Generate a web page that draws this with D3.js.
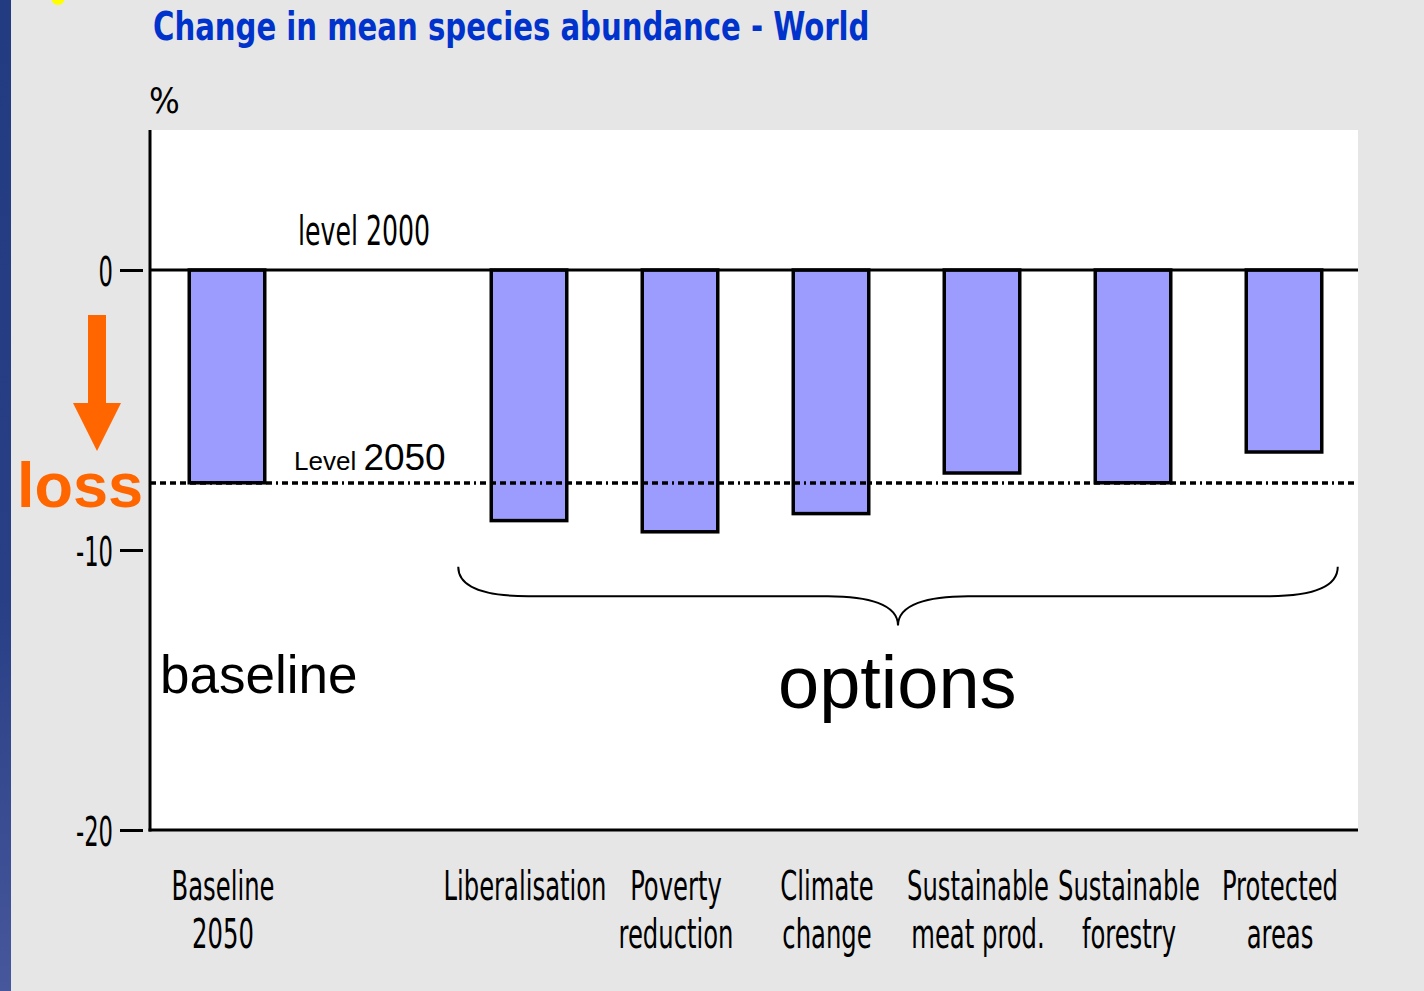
<!DOCTYPE html>
<html lang="en">
<head>
    <meta charset="UTF-8">
    <title>Change in mean species abundance - World</title>
    <script src="https://d3js.org/d3.v7.min.js"></script>
    <style>
        body { margin: 0; background: #e6e6e6; }
        svg { display: block; }
        .narrow { font-family: "Liberation Sans Narrow", "DejaVu Sans Condensed", "Liberation Sans", sans-serif; }
        .arial { font-family: "Liberation Sans", Arial, sans-serif; }
    </style>
</head>
<body>
    <div id="chart"></div>
    <script>
        // Data
        const categories = ["Baseline 2050", "", "Liberalisation", "Poverty reduction", "Climate change",
                            "Sustainable meat prod.", "Sustainable forestry", "Protected areas"];
        const labelLines = [["Baseline", "2050"], [], ["Liberalisation"], ["Poverty", "reduction"],
                            ["Climate", "change"], ["Sustainable", "meat prod."], ["Sustainable", "forestry"],
                            ["Protected", "areas"]];
        const values = [-7.6, null, -8.95, -9.35, -8.7, -7.25, -7.6, -6.5];
        const yTicks = [0, -10, -20];
        const level2050 = -7.6;

        const W = 1424, H = 991;
        const plot = { left: 150, right: 1358, top: 130, bottom: 830 };

        const svg = d3.select("#chart").append("svg")
            .attr("width", W).attr("height", H);

        // text helper: the original uses a tall, narrow bitmap font, so stretch vertically
        function tallText(parent, str, x, y, size, sx, sy, cls) {
            return parent.append("text")
                .attr("class", cls || "narrow")
                .attr("transform", `translate(${x},${y}) scale(${sx},${sy})`)
                .style("font-size", size + "px")
                .text(str);
        }

        // background and left stripe
        const grad = svg.append("defs").append("linearGradient")
            .attr("id", "stripe").attr("x1", 0).attr("y1", 0).attr("x2", 0).attr("y2", 1);
        grad.append("stop").attr("offset", "0%").attr("stop-color", "#233b80");
        grad.append("stop").attr("offset", "60%").attr("stop-color", "#283f85");
        grad.append("stop").attr("offset", "100%").attr("stop-color", "#47579b");
        svg.append("rect").attr("width", W).attr("height", H).attr("fill", "#e6e6e6");
        svg.append("rect").attr("width", 11).attr("height", H).attr("fill", "url(#stripe)");
        svg.append("ellipse").attr("cx", 58).attr("cy", -3).attr("rx", 7).attr("ry", 8).attr("fill", "#ffff00");

        // title
        tallText(svg, "Change in mean species abundance - World", 153, 40, 32.4, 1, 1.19)
            .attr("fill", "#0033cc")
            .style("font-weight", "bold");

        // plot area
        svg.append("rect")
            .attr("x", plot.left).attr("y", plot.top)
            .attr("width", plot.right - plot.left).attr("height", plot.bottom - plot.top)
            .attr("fill", "#ffffff");

        const x = d3.scaleBand()
            .domain(categories)
            .range([plot.left + 1.5, plot.right + 1.5])
            .paddingInner(0.5).paddingOuter(0.25);

        const y = d3.scaleLinear()
            .domain([5, -20])
            .range([plot.top, plot.bottom]);

        // bars
        svg.selectAll("rect.bar")
            .data(categories.map((c, i) => ({ c, v: values[i] })).filter(d => d.v !== null))
            .enter().append("rect")
            .attr("class", "bar")
            .attr("x", d => x(d.c))
            .attr("y", y(0))
            .attr("width", x.bandwidth())
            .attr("height", d => y(d.v) - y(0))
            .attr("fill", "#9c9cff")
            .attr("stroke", "#000")
            .attr("stroke-width", 3.5);

        // level 2050 dash-dot line, drawn over the bars
        svg.append("line")
            .attr("x1", plot.left).attr("x2", plot.right)
            .attr("y1", Math.round(y(level2050))).attr("y2", Math.round(y(level2050)))
            .attr("stroke", "#000").attr("stroke-width", 3.5)
            .attr("stroke-dasharray", "6,4,6,4,6,4,6,4,6,4,6,4,2,4");

        // zero line
        svg.append("line")
            .attr("x1", plot.left).attr("x2", plot.right)
            .attr("y1", y(0)).attr("y2", y(0))
            .attr("stroke", "#000").attr("stroke-width", 3);

        // y axis
        const yAxis = svg.append("g")
            .attr("transform", `translate(${plot.left - 2},0)`)
            .call(d3.axisLeft(y).tickValues(yTicks).tickSize(23).tickSizeOuter(0)
                .tickFormat(d => String(d)));
        yAxis.select(".domain").remove();
        yAxis.selectAll(".tick line").attr("stroke-width", 3).attr("transform", "translate(-5,0)");
        yAxis.selectAll(".tick text")
            .attr("class", "narrow")
            .attr("x", 0).attr("dy", 0)
            .attr("transform", "translate(-35,15) scale(1.05,1.7)")
            .style("font-size", "24px")
            .attr("fill", "#000");

        svg.append("line")
            .attr("x1", plot.left).attr("x2", plot.left)
            .attr("y1", plot.top).attr("y2", plot.bottom + 1.5)
            .attr("stroke", "#000").attr("stroke-width", 3);
        svg.append("line")
            .attr("x1", plot.left - 1.5).attr("x2", plot.right)
            .attr("y1", plot.bottom).attr("y2", plot.bottom)
            .attr("stroke", "#000").attr("stroke-width", 3);

        tallText(svg, "%", 149, 113, 36, 1, 1);

        // category labels
        const labels = svg.selectAll("g.cat")
            .data(categories.map((c, i) => ({ c, lines: labelLines[i] })))
            .enter().append("g")
            .attr("class", "cat")
            .attr("transform", d => `translate(${x(d.c) + x.bandwidth() / 2 - 4},0)`);
        labels.each(function (d) {
            d.lines.forEach((t, j) => {
                tallText(d3.select(this), t, 0, 900 + j * 48, 27, 1, 1.5)
                    .attr("text-anchor", "middle");
            });
        });

        // annotations
        tallText(svg, "level 2000", 298, 245, 28, 1, 1.47);

        const lv = svg.append("text")
            .attr("class", "arial")
            .attr("x", 294).attr("y", 470);
        lv.append("tspan").style("font-size", "26px").text("Level ");
        lv.append("tspan").style("font-size", "37px").text("2050");

        svg.append("text").attr("class", "arial")
            .attr("x", 160).attr("y", 693)
            .style("font-size", "53px")
            .text("baseline");

        svg.append("text").attr("class", "arial")
            .attr("x", 778).attr("y", 708)
            .style("font-size", "74px")
            .text("options");

        // brace over the options
        const bx0 = x(categories[2]) - 33, bx1 = x(categories[7]) + x.bandwidth() + 16;
        const bm = (bx0 + bx1) / 2, by0 = y(-10.6), by1 = y(-11.65), by2 = y(-12.7);
        svg.append("path")
            .attr("d", `M${bx0},${by0} C${bx0},${by1 - 4} ${bx0 + 40},${by1} ${bx0 + 70},${by1}
                        L${bm - 70},${by1} C${bm - 30},${by1} ${bm},${by1 + 8} ${bm},${by2}
                        C${bm},${by1 + 8} ${bm + 30},${by1} ${bm + 70},${by1}
                        L${bx1 - 70},${by1} C${bx1 - 40},${by1} ${bx1},${by1 - 4} ${bx1},${by0}`)
            .attr("fill", "none").attr("stroke", "#000").attr("stroke-width", 2);

        // loss arrow
        svg.append("path")
            .attr("d", "M88,315 L106,315 L106,403 L121,403 L97,451 L73,403 L88,403 Z")
            .attr("fill", "#ff6600");
        svg.append("text").attr("class", "arial")
            .attr("x", 17).attr("y", 507)
            .attr("fill", "#ff6600")
            .style("font-size", "63px").style("font-weight", "bold")
            .text("loss");
    </script>
</body>
</html>
